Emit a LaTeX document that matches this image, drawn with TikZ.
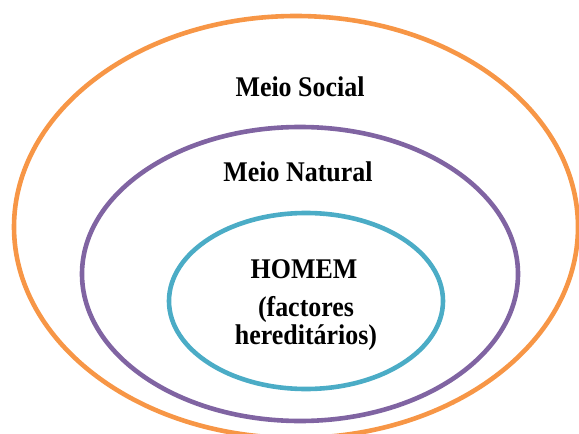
\documentclass[tikz,border=0pt]{standalone}
\usepackage{fontspec}
\usepackage{graphicx}
\setmainfont{Liberation Serif}
\usetikzlibrary{shapes.geometric}
\definecolor{orangeC}{HTML}{F79646}
\definecolor{purpleC}{HTML}{8064A2}
\definecolor{cyanC}{HTML}{4BACC6}
\newcommand{\narrowtext}[1]{\scalebox{0.91}[1]{#1}}
\tikzset{
  ring/.style={ellipse, draw=#1, line width=4.6pt, inner sep=0pt},
  lbl/.style={font=\fontsize{28.5}{30}\selectfont\bfseries, anchor=base, inner sep=0pt}
}
\begin{document}
\begin{tikzpicture}[x=1pt,y=-1pt]
\useasboundingbox (0,0) rectangle (579,434);
\node[ring=orangeC, minimum width=564pt, minimum height=422pt] (social) at (296,227) {};
\node[ring=purpleC, minimum width=436pt, minimum height=294pt] (natural) at (300,274) {};
\node[ring=cyanC, minimum width=274pt, minimum height=176pt] (homem) at (306,301) {};
\node[lbl] (t1) at (300,96) {\narrowtext{Meio Social}};
\node[lbl] (t2) at (298,181) {\narrowtext{Meio Natural}};
\node[lbl] (t3) at (304,278) {\narrowtext{HOMEM}};
\node[lbl] (t4) at (306,316) {\narrowtext{(factores}};
\node[lbl] (t5) at (306,344) {\narrowtext{hereditários)}};
\end{tikzpicture}
\end{document}
